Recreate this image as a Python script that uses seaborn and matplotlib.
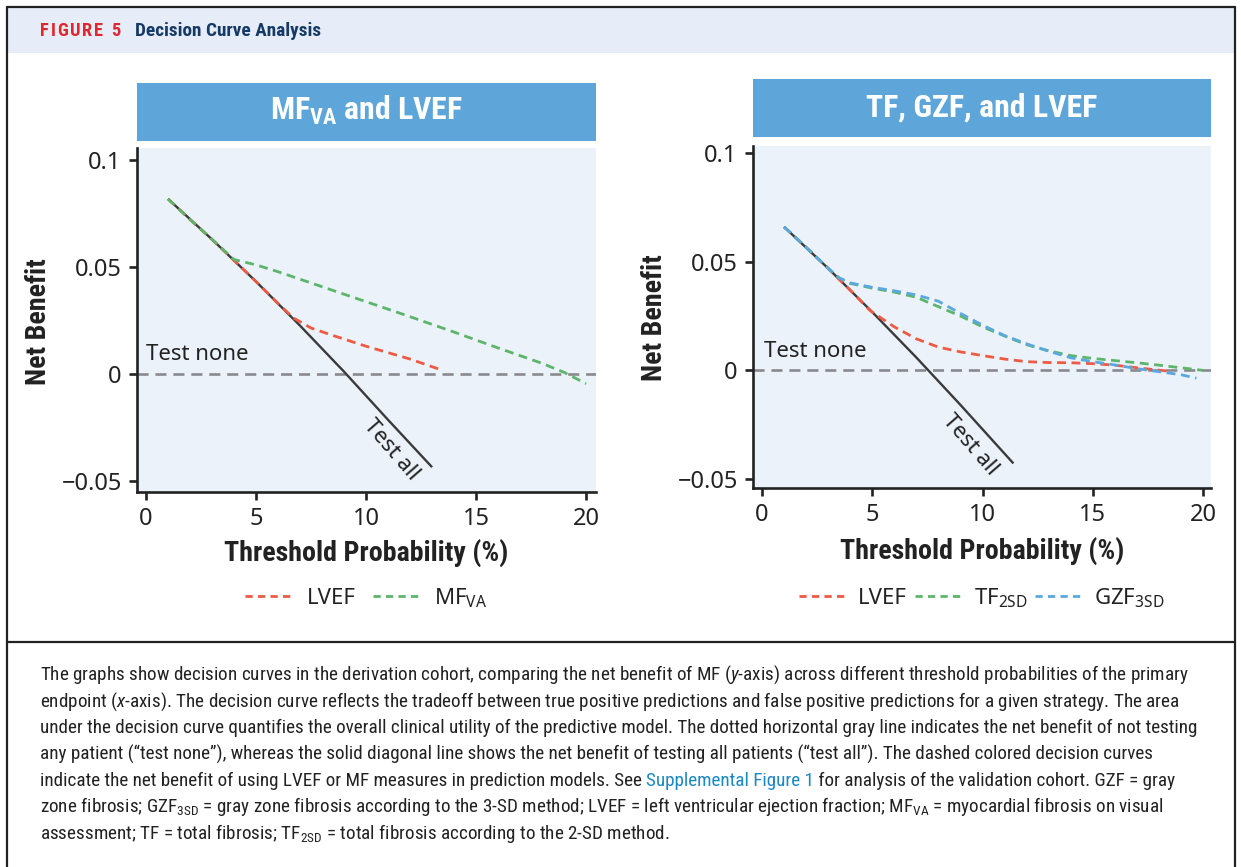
import numpy as np
import pandas as pd
import matplotlib
matplotlib.use("Agg")
import matplotlib.pyplot as plt
import seaborn as sns
from matplotlib import font_manager as fm
from matplotlib.patches import Rectangle
from matplotlib.lines import Line2D

# ---------------- data ----------------
x_ticks = [0, 5, 10, 15, 20]
y_ticks = [-0.05, 0.0, 0.05, 0.1]
y_tick_labels = ["\u22120.05", "0", "0.05", "0.1"]

# Left panel: MF_VA and LVEF
left_all_x = [1, 3, 5, 7, 9, 11, 13]
left_all_y = [0.0818, 0.0629, 0.0432, 0.0226, 0.0011, -0.0214, -0.0435]
left_lvef_x = [1, 2, 3, 4, 5, 6, 6.7, 7.5, 8.5, 10, 11, 12, 13.4]
left_lvef_y = [0.0818, 0.0722, 0.0629, 0.0531, 0.0432, 0.0330, 0.0262, 0.0215,
               0.0180, 0.0130, 0.0100, 0.0070, 0.0020]
left_mf_x = [1, 2, 3, 4, 5, 6, 8, 10, 12, 14, 16, 18, 19, 20]
left_mf_y = [0.0818, 0.0722, 0.0629, 0.0535, 0.0510, 0.0478, 0.0408, 0.0338,
             0.0268, 0.0196, 0.0122, 0.0050, 0.0008, -0.0045]

# Right panel: TF, GZF, and LVEF
right_all_x = [1, 3, 5, 7, 9, 11.4]
right_all_y = [0.0660, 0.0469, 0.0268, 0.0059, -0.0159, -0.0428]
right_lvef_x = [1, 2, 3, 4, 4.9, 6, 7, 8, 9, 10, 11, 12, 13, 14, 15, 16, 17, 18, 18.6]
right_lvef_y = [0.0660, 0.0566, 0.0469, 0.0369, 0.0275, 0.0200, 0.0145, 0.0107,
                0.0085, 0.0068, 0.0052, 0.0040, 0.0036, 0.0035, 0.0031, 0.0024,
                0.0012, 0.0001, -0.0005]
right_tf_x = [1, 2, 3, 3.5, 4, 5, 6, 7, 8, 9, 10, 11, 12, 13, 14, 15, 16, 17, 18, 19, 20]
right_tf_y = [0.0660, 0.0566, 0.0469, 0.0425, 0.0400, 0.0378, 0.0360, 0.0336,
              0.0293, 0.0250, 0.0200, 0.0158, 0.0118, 0.0090, 0.0068, 0.0055,
              0.0045, 0.0035, 0.0024, 0.0012, 0.0000]
right_gzf_x = [1, 2, 3, 3.5, 4, 5, 6, 7, 8, 9, 10, 11, 12, 13, 14, 15, 16, 17, 18, 19, 19.7]
right_gzf_y = [0.0660, 0.0566, 0.0469, 0.0425, 0.0402, 0.0382, 0.0366, 0.0347,
               0.0318, 0.0262, 0.0208, 0.0160, 0.0122, 0.0088, 0.0058, 0.0040,
               0.0025, 0.0008, -0.0006, -0.0020, -0.0036]

# ---------------- style ----------------
sns.set_theme(style="ticks")
avail = {f.name for f in fm.fontManager.ttflist}


def pick(*names):
    for n in names:
        if n in avail:
            return n
    return "DejaVu Sans"


COND = pick("Roboto Condensed", "Liberation Sans Narrow", "Open Sans Condensed", "Roboto", "Lato")
SANS = pick("Noto Sans", "Open Sans", "DejaVu Sans")
plt.rcParams["font.family"] = [SANS, "DejaVu Sans"]
plt.rcParams["mathtext.fontset"] = "custom"
plt.rcParams["mathtext.rm"] = COND
plt.rcParams["mathtext.it"] = COND + ":italic"
plt.rcParams["mathtext.bf"] = COND + ":bold"
plt.rcParams["mathtext.sf"] = SANS

RED = "#ee5a43"
GREEN = "#5cb56a"
BLUE = "#5aa8e0"
DARK = "#3a3a3a"
GRAY = "#8a8a8e"
AXBG = "#ebf2fa"
TITLEBG = "#5ea5da"
INK = "#222222"

W, H = 1241, 867
fig = plt.figure(figsize=(W / 100, H / 100), dpi=100)
fig.patch.set_facecolor("white")
R = fig.canvas.get_renderer()


def fx(px):
    return px / W


def fy(py):
    return 1 - py / H


def rect(x0, y0, x1, y1, **kw):
    fig.add_artist(Rectangle((fx(x0), fy(y1)), fx(x1) - fx(x0), fy(y0) - fy(y1),
                             transform=fig.transFigure, **kw))


def hline(x0, x1, y, **kw):
    fig.add_artist(Line2D([fx(x0), fx(x1)], [fy(y), fy(y)], transform=fig.transFigure, **kw))


def vline(x, y0, y1, **kw):
    fig.add_artist(Line2D([fx(x), fx(x)], [fy(y0), fy(y1)], transform=fig.transFigure, **kw))


def fit(t, target, use_height=False):
    bb = t.get_window_extent(R)
    cur = bb.height if use_height else bb.width
    t.set_fontsize(t.get_fontsize() * target / cur)
    return t.get_fontsize()


# frame and header
rect(8, 8, 1235, 53, fc="#e6edf8", ec="none", zorder=0)
hline(7, 1235, 7, color=INK, lw=1.6)
vline(7, 7, 867, color=INK, lw=1.6)
vline(1235, 7, 867, color=INK, lw=1.6)
hline(7, 1235, 642, color=INK, lw=1.6)

hd = fig.text(fx(135), fy(36), "Decision Curve Analysis", fontsize=11, fontweight="bold",
              color="#163a66", family=[COND, "DejaVu Sans"], va="baseline", ha="left")
hfs = fit(hd, 186)
# letter-spaced "FIGURE 5"
label = "FIGURE 5"
chars = []
for ch in label:
    t = fig.text(0, fy(36), ch, fontsize=hfs * 0.95, fontweight="heavy", color="#e0262e",
                 family=[COND, "DejaVu Sans"], va="baseline", ha="left")
    chars.append(t)
widths = [c.get_window_extent(R).width if c.get_text() != " " else hfs * 0.3 for c in chars]
gap = (80 - sum(widths)) / (len(chars) - 1)
xpos = 40
for c, w in zip(chars, widths):
    c.set_x(fx(xpos))
    xpos += w + gap

# title boxes
rect(137, 83, 596, 141, fc=TITLEBG, ec="none")
rect(753, 79, 1211, 137, fc=TITLEBG, ec="none")
tr = fig.text(fx(982), fy(108), "TF, GZF, and LVEF", color="white", fontsize=20,
              fontweight="bold", family=[COND, "DejaVu Sans"], ha="center", va="center")
tfs = fit(tr, 231)
fig.text(fx(366), fy(110), r"MF$_{\mathbf{VA}}$ and LVEF", color="white", fontsize=tfs,
         fontweight="bold", family=[COND, "DejaVu Sans"], ha="center", va="center")

# axes
axL = fig.add_axes([fx(137), fy(492), (596 - 137) / W, (492 - 148) / H])
axR = fig.add_axes([fx(753), fy(488), (1211 - 753) / W, (488 - 146) / H])

DASH = (3.2, 2.0)


def draw(ax, xs, ys, color, dashed=True, lw=2.0, z=3):
    df = pd.DataFrame({"x": xs, "y": ys})
    sns.lineplot(data=df, x="x", y="y", ax=ax, color=color, lw=lw, zorder=z,
                 linestyle="--" if dashed else "-")
    ln = ax.lines[-1]
    if dashed:
        ln.set_dashes(DASH)
    ln.set_solid_capstyle("butt")
    ln.set_dash_capstyle("butt")


def style(ax, xlim, ylim):
    ax.set_facecolor(AXBG)
    ax.set_xlim(*xlim)
    ax.set_ylim(*ylim)
    ax.set_xticks(x_ticks)
    ax.set_xticklabels([str(v) for v in x_ticks])
    ax.set_yticks(y_ticks)
    ax.set_yticklabels(y_tick_labels)
    for s in ["top", "right"]:
        ax.spines[s].set_visible(False)
    for s in ["left", "bottom"]:
        ax.spines[s].set_color(INK)
        ax.spines[s].set_linewidth(1.9)
    ax.tick_params(direction="out", length=6, width=1.9, color=INK, labelsize=17,
                   labelcolor=INK, pad=5)
    # test none
    ax.axhline(0, color=GRAY, lw=1.9, dashes=(4.2, 2.6), zorder=2)


# left panel
style(axL, (-0.41, 20.45), (-0.0551, 0.1056))
draw(axL, left_all_x, left_all_y, DARK, dashed=False, lw=1.7, z=2.5)
draw(axL, left_lvef_x, left_lvef_y, RED)
draw(axL, left_mf_x, left_mf_y, GREEN)

# right panel
style(axR, (-0.41, 20.36), (-0.0541, 0.1032))
draw(axR, right_all_x, right_all_y, DARK, dashed=False, lw=1.7, z=2.5)
draw(axR, right_lvef_x, right_lvef_y, RED)
draw(axR, right_tf_x, right_tf_y, GREEN)
draw(axR, right_gzf_x, right_gzf_y, BLUE)

for ax in (axL, axR):
    ax.set_xlabel("")
    ax.set_ylabel("")

# annotations
axL.text(0.0, 0.0042, "Test none", fontsize=16, color=INK, ha="left", va="bottom")
axR.text(0.1, 0.0040, "Test none", fontsize=16, color=INK, ha="left", va="bottom")
axL.text(11.15, -0.0355, "Test all", fontsize=16, color=INK, ha="center", va="center",
         rotation=-49, rotation_mode="anchor")
axR.text(9.45, -0.0345, "Test all", fontsize=16, color=INK, ha="center", va="center",
         rotation=-49, rotation_mode="anchor")

# axis labels
xl = fig.text(fx(366), fy(553), "Threshold Probability (%)", fontsize=16, fontweight="bold",
              color=INK, family=[COND, "DejaVu Sans"], ha="center", va="center")
lfs = fit(xl, 284)
fig.text(fx(982), fy(551), "Threshold Probability (%)", fontsize=lfs, fontweight="bold",
         color=INK, family=[COND, "DejaVu Sans"], ha="center", va="center")
fig.text(fx(38), fy(322), "Net Benefit", fontsize=lfs, fontweight="bold", color=INK,
         family=[COND, "DejaVu Sans"], ha="center", va="center", rotation=90)
fig.text(fx(655), fy(318), "Net Benefit", fontsize=lfs, fontweight="bold", color=INK,
         family=[COND, "DejaVu Sans"], ha="center", va="center", rotation=90)


# legends
def leg_handle(c):
    return Line2D([0], [0], color=c, lw=2.0, dashes=(2.6, 1.9))


lgL = axL.legend([leg_handle(RED), leg_handle(GREEN)],
                 ["LVEF", r"$\mathsf{MF}_{\mathsf{VA}}$"],
                 loc="center", bbox_to_anchor=(0.5, (492 - 598) / 344), ncol=2,
                 frameon=False, fontsize=16, handlelength=2.2, handletextpad=0.55,
                 columnspacing=0.8)
lgR = axR.legend([leg_handle(RED), leg_handle(GREEN), leg_handle(BLUE)],
                 ["LVEF", r"$\mathsf{TF}_{\mathsf{2SD}}$", r"$\mathsf{GZF}_{\mathsf{3SD}}$"],
                 loc="center", bbox_to_anchor=(0.5, (488 - 598) / 342), ncol=3,
                 frameon=False, fontsize=16, handlelength=2.2, handletextpad=0.45,
                 columnspacing=0.35)
for lg in (lgL, lgR):
    for t in lg.get_texts():
        t.set_color(INK)

# caption
LINK = "#1a88c4"
cap = [
    [("The graphs show decision curves in the derivation cohort, comparing the net benefit of MF "
      "($y$-axis) across different threshold probabilities of the primary", INK)],
    [("endpoint ($x$-axis). The decision curve reflects the tradeoff between true positive "
      "predictions and false positive predictions for a given strategy. The area", INK)],
    [("under the decision curve quantifies the overall clinical utility of the predictive model. "
      "The dotted horizontal gray line indicates the net benefit of not testing", INK)],
    [("any patient (\u201ctest none\u201d), whereas the solid diagonal line shows the net benefit "
      "of testing all patients (\u201ctest all\u201d). The dashed colored decision curves", INK)],
    [("indicate the net benefit of using LVEF or MF measures in prediction models. See ", INK),
     ("Supplemental Figure 1", LINK),
     (" for analysis of the validation cohort. GZF = gray", INK)],
    [(r"zone fibrosis; GZF$_{\mathrm{3SD}}$ = gray zone fibrosis according to the 3-SD method; "
      r"LVEF = left ventricular ejection fraction; MF$_{\mathrm{VA}}$ = myocardial fibrosis on visual", INK)],
    [(r"assessment; TF = total fibrosis; TF$_{\mathrm{2SD}}$ = total fibrosis according to the 2-SD method.", INK)],
]
probe = fig.text(0, 0, cap[0][0][0], fontsize=12, family=[COND, "DejaVu Sans"])
cfs = fit(probe, 1150)
probe.remove()
base0 = 680
dy = 26.5
for i, segs in enumerate(cap):
    x = 40
    for txt, col in segs:
        t = fig.text(fx(x), fy(base0 + i * dy), txt, fontsize=cfs, color=col,
                     family=[COND, "DejaVu Sans"], ha="left", va="baseline")
        x = t.get_window_extent(R).x1

fig.savefig("out.png", dpi=100, facecolor="white")
